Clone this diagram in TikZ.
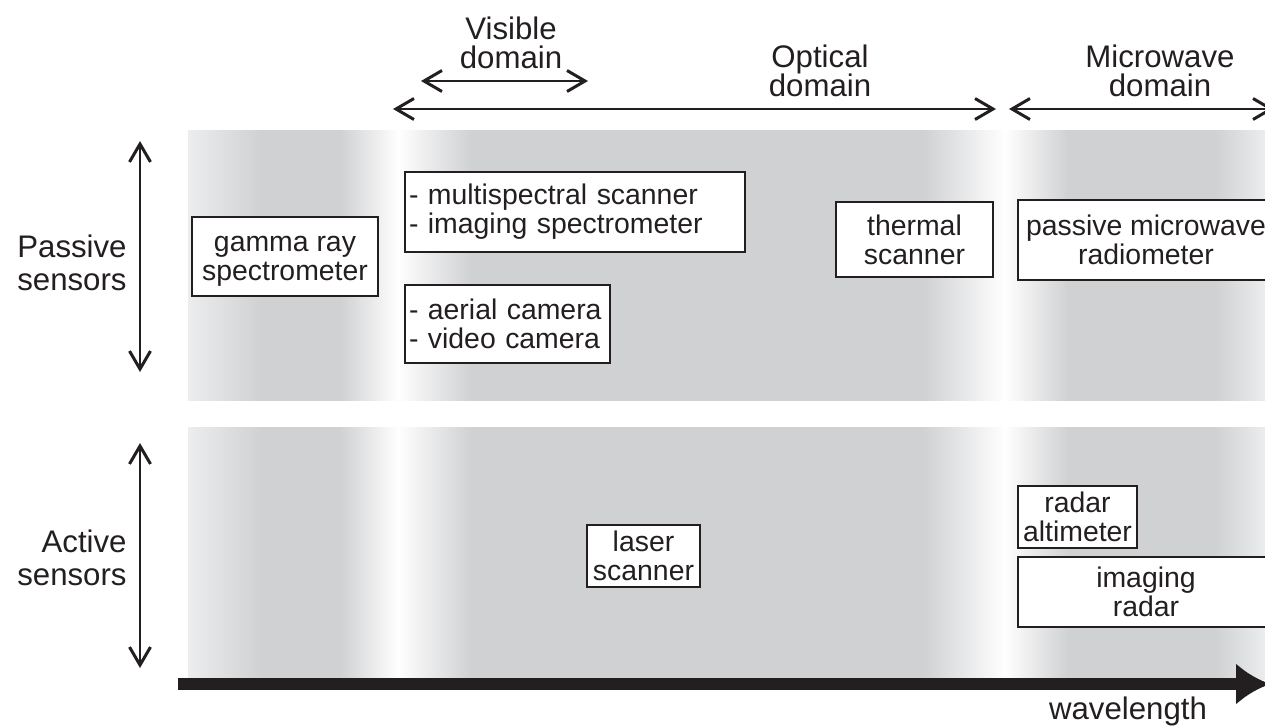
\documentclass[tikz,border=0pt]{standalone}
\usepackage{fontspec}
\setmainfont{Liberation Sans}
\usetikzlibrary{arrows.meta}
\definecolor{bandgray}{RGB}{208,209,211}
\definecolor{edgegray}{RGB}{236,237,238}
\definecolor{ink}{RGB}{35,31,32}
\begin{document}
\begin{tikzpicture}[x=0.5pt,y=-0.5pt,
  boxfont/.style={font=\fontsize{14.2}{14.4}\selectfont},
  labfont/.style={font=\fontsize{15.6}{16.2}\selectfont},
  domfont/.style={font=\fontsize{15.6}{14.8}\selectfont},
  sbox/.style={draw=ink, line width=1.4pt, fill=white, text=ink, inner sep=0pt, boxfont, align=center},
  lab/.style={text=ink, inner sep=0pt, labfont},
  dlab/.style={text=ink, inner sep=0pt, domfont, align=center},
  dom/.style={draw=ink, line width=1.35pt, {Straight Barb[length=9pt,width=10.5pt,line width=1.5pt]}-{Straight Barb[length=9pt,width=10.5pt,line width=1.5pt]}},
  wave/.style={draw=ink, line width=6pt, -{Latex[length=17pt,width=21pt]}}
]
\useasboundingbox (0,0) rectangle (1265,728);
\clip (0,0) rectangle (1265,728);
\fill[white] (0,0) rectangle (1265,728);
% shaded bands
\foreach \ya/\yb in {130/400, 427/679}{
  \shade[left color=bandgray,right color=bandgray] (259,\ya) rectangle (1216,\yb);
  \shade[left color=edgegray,right color=bandgray] (188,\ya) rectangle (261,\yb);
  \shade[left color=bandgray,right color=white] (340,\ya) rectangle (398.5,\yb);
  \shade[left color=white,right color=bandgray] (397.5,\ya) rectangle (471,\yb);
  \shade[left color=bandgray,right color=white] (923,\ya) rectangle (1005.5,\yb);
  \shade[left color=white,right color=bandgray] (1004.5,\ya) rectangle (1068,\yb);
  \shade[left color=bandgray,right color=edgegray] (1215,\ya) rectangle (1266,\yb);
}
% domain labels
\node[dlab] (vis) at (511,43) {Visible\\domain};
\node[dlab] (opt) at (820,71) {Optical\\domain};
\node[dlab] (mw) at (1160,71) {Microwave\\domain};
% domain arrows
\coordinate (visL) at (421,81);
\coordinate (visR) at (588,81);
\coordinate (optL) at (393,109);
\coordinate (optR) at (996,109);
\coordinate (mwL) at (1009,109);
\coordinate (mwR) at (1274,109);
\draw[dom] (visL) -- (visR);
\draw[dom] (optL) -- (optR);
\draw[dom] (mwL) -- (mwR);
% side labels
\node[lab, align=right, anchor=east] (pas) at (127,263) {Passive\\sensors};
\node[lab, align=right, anchor=east] (act) at (127,558) {Active\\sensors};
\coordinate (pasT) at (140,141);
\coordinate (pasB) at (140,372);
\coordinate (actT) at (140,443);
\coordinate (actB) at (140,668);
\draw[dom] (pasT) -- (pasB);
\draw[dom] (actT) -- (actB);
% boxes
\node[sbox, minimum width=93pt, minimum height=39.5pt,
  label={[boxfont, text=ink, align=center, inner sep=0pt, yshift=-2.5pt]center:gamma ray\\spectrometer}] (gamma) at (285,256.5) {};
\node[sbox, minimum width=170pt, minimum height=40pt, align=left, text width=166pt] (multi) at (575,212) {- multispectral scanner\\- imaging spectrometer};
\node[sbox, minimum width=102.5pt, minimum height=39pt, align=left, text width=98.5pt] (aerial) at (507.5,324) {- aerial camera\\- video camera};
\node[sbox, minimum width=78.5pt, minimum height=37.5pt] (thermal) at (914.5,239.5) {thermal\\scanner};
\node[sbox, minimum width=128pt, minimum height=40pt] (pmr) at (1146,240) {passive microwave\\radiometer};
\node[sbox, minimum width=56.5pt, minimum height=31pt] (laser) at (643.5,556) {laser\\scanner};
\node[sbox, minimum width=59.5pt, minimum height=31pt] (ralt) at (1077.5,517) {radar\\altimeter};
\node[sbox, minimum width=128pt, minimum height=35pt] (irad) at (1146,592) {imaging\\radar};
% wavelength axis
\coordinate (wlS) at (178,684);
\coordinate (wlE) at (1270,684);
\draw[wave] (wlS) -- (wlE);
\node[lab] (wl) at (1128,711) {wavelength};
\end{tikzpicture}
\end{document}
